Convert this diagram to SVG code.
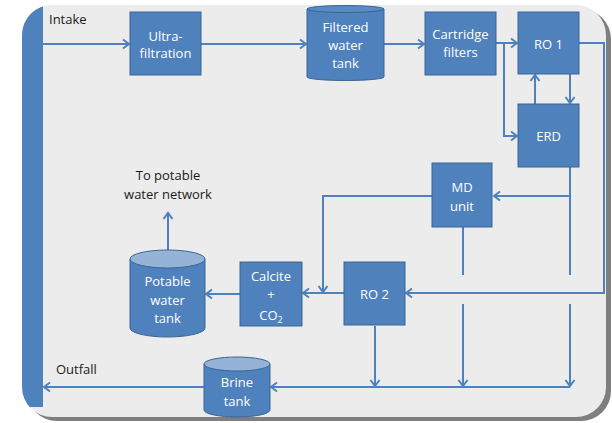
<svg xmlns="http://www.w3.org/2000/svg" width="612" height="423" viewBox="0 0 612 423">
<style>
.box{fill:#4f81bd;stroke:#3a6595;stroke-width:1}
.cap{fill:#95b3d7;stroke:#3a6595;stroke-width:1}
.wt{font-family:"Open Sans","Liberation Sans",sans-serif;font-size:13px;fill:#ffffff;text-anchor:middle}
.bt{font-family:"Open Sans","Liberation Sans",sans-serif;font-size:13px;fill:#1a1a1a}
.ln{fill:none;stroke:#4f81bd;stroke-width:2}
</style>
<defs>
<marker id="arr" markerUnits="userSpaceOnUse" markerWidth="12" markerHeight="12" refX="8" refY="6" orient="auto">
<path d="M2,1.5 L8,6 L2,10.5" fill="none" stroke="#4f81bd" stroke-width="2"/>
</marker>
<clipPath id="panelClip"><rect x="22" y="5" width="584" height="412" rx="30"/></clipPath>
</defs>
<rect x="0" y="0" width="612" height="423" fill="#ffffff"/>
<rect x="27" y="9" width="584" height="412" rx="30" fill="#7f7f7f"/>
<rect x="22" y="5" width="584" height="412" rx="30" fill="#ececec"/>
<rect x="22" y="5" width="21" height="402" fill="#4f81bd" clip-path="url(#panelClip)"/>
<text class="bt" x="49" y="24">Intake</text>
<text class="bt" x="56" y="374">Outfall</text>
<text class="bt" x="168" y="180" text-anchor="middle">To potable</text>
<text class="bt" x="168" y="199" text-anchor="middle">water network</text>
<g id="connectors">
<path class="ln" d="M43,44 H129" marker-end="url(#arr)"/>
<path class="ln" d="M201,44 H306" marker-end="url(#arr)"/>
<path class="ln" d="M384,44 H424" marker-end="url(#arr)"/>
<path class="ln" d="M496,43 H517" marker-end="url(#arr)"/>
<path class="ln" d="M504,43 V136 H517" marker-end="url(#arr)"/>
<path class="ln" d="M535,104 V75" marker-end="url(#arr)"/>
<path class="ln" d="M570,74 V103" marker-end="url(#arr)"/>
<path class="ln" d="M579,43 H604 V293 H406" marker-end="url(#arr)"/>
<path class="ln" d="M570,167 V275"/>
<path class="ln" d="M570,196 H494" marker-end="url(#arr)"/>
<path class="ln" d="M570,304 V386" marker-end="url(#arr)"/>
<path class="ln" d="M432,196 H323 V292" marker-end="url(#arr)"/>
<path class="ln" d="M463,227 V275"/>
<path class="ln" d="M463,304 V386" marker-end="url(#arr)"/>
<path class="ln" d="M344,293 H303" marker-end="url(#arr)"/>
<path class="ln" d="M375,326 V386" marker-end="url(#arr)"/>
<path class="ln" d="M570,387 H271" marker-end="url(#arr)"/>
<path class="ln" d="M204,387 H44" marker-end="url(#arr)"/>
<path class="ln" d="M240,294 H206" marker-end="url(#arr)"/>
<path class="ln" d="M168,250 V213" marker-end="url(#arr)"/>
</g>
<g id="ultrafiltration">
<rect class="box" x="130" y="12" width="71" height="63"/>
<text class="wt" x="165.5" y="40.5">Ultra-</text>
<text class="wt" x="165.5" y="58">filtration</text>
</g>
<g id="filtered-tank">
<path class="box" d="M307,9 V77 A38.5,3.5 0 0 0 384,77 V9 Z"/>
<ellipse class="cap" cx="345.5" cy="9" rx="38.5" ry="3.5" style="fill:#5a8ac4"/>
<text class="wt" x="345.5" y="32">Filtered</text>
<text class="wt" x="345.5" y="50">water</text>
<text class="wt" x="345.5" y="68">tank</text>
</g>
<g id="cartridge">
<rect class="box" x="425" y="12" width="71" height="63"/>
<text class="wt" x="460.5" y="39">Cartridge</text>
<text class="wt" x="460.5" y="57">filters</text>
</g>
<g id="ro1">
<rect class="box" x="518" y="12" width="61" height="62"/>
<text class="wt" x="548.5" y="49">RO 1</text>
</g>
<g id="erd">
<rect class="box" x="518" y="104" width="61" height="63"/>
<text class="wt" x="548.5" y="141">ERD</text>
</g>
<g id="md">
<rect class="box" x="432" y="163" width="60" height="64"/>
<text class="wt" x="462" y="192">MD</text>
<text class="wt" x="462" y="211">unit</text>
</g>
<g id="ro2">
<rect class="box" x="344" y="262" width="61" height="63"/>
<text class="wt" x="374.5" y="299">RO 2</text>
</g>
<g id="calcite">
<rect class="box" x="240" y="262" width="62" height="64"/>
<text class="wt" x="271" y="281">Calcite</text>
<text class="wt" x="271" y="299">+</text>
<text class="wt" x="271" y="320">CO<tspan font-size="9" dy="3">2</tspan></text>
</g>
<g id="potable-tank">
<path class="box" d="M130,259 V328 A37.5,9 0 0 0 205,328 V259 Z"/>
<ellipse class="cap" cx="167.5" cy="259" rx="37.5" ry="9"/>
<text class="wt" x="167.5" y="286">Potable</text>
<text class="wt" x="167.5" y="305">water</text>
<text class="wt" x="167.5" y="323">tank</text>
</g>
<g id="brine-tank">
<path class="box" d="M204,364 V410 A33,7 0 0 0 270,410 V364 Z"/>
<ellipse class="cap" cx="237" cy="364" rx="33" ry="7"/>
<text class="wt" x="237" y="387">Brine</text>
<text class="wt" x="237" y="406">tank</text>
</g>
</svg>
